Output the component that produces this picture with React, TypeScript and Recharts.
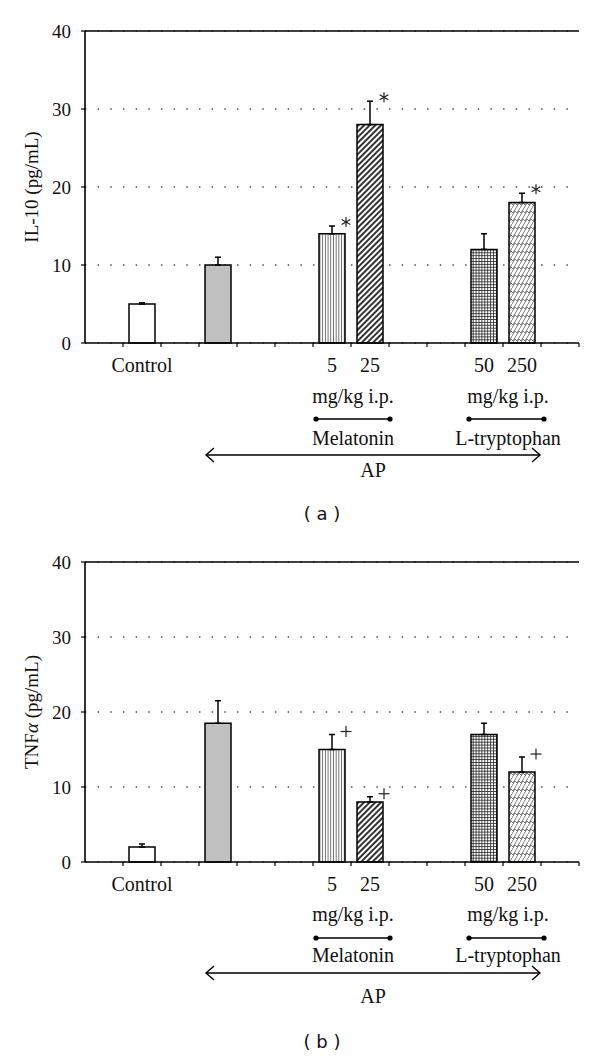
import React from 'react';
import { BarChart, Bar, XAxis, YAxis, CartesianGrid, ErrorBar, Cell, LabelList, ReferenceLine } from 'recharts';

// ---- data ----
const categories = ['c0', 'control', 'c2', 'ap', 'c4', 'c5', 'mel5', 'mel25', 'c8', 'c9', 'trp50', 'trp250', 'c12'];
const tickLabels = ['', 'Control', '', '', '', '', '5', '25', '', '', '50', '250', ''];
const fillKeys = ['', 'white', '', 'gray', '', '', 'vlines', 'diag', '', '', 'grid', 'zig', ''];

const il10Values = [null, 5, null, 10, null, null, 14, 28, null, null, 12, 18, null];
const il10Errors = [null, 0.15, null, 1, null, null, 1, 3, null, null, 2, 1.2, null];
const il10Marks = ['', '', '', '', '', '', '*', '*', '', '', '', '*', ''];

const tnfValues = [null, 2, null, 18.5, null, null, 15, 8, null, null, 17, 12, null];
const tnfErrors = [null, 0.4, null, 3, null, null, 2, 0.7, null, null, 1.5, 2, null];
const tnfMarks = ['', '', '', '', '', '', '+', '+', '', '', '', '+', ''];

const yTicks = [0, 10, 20, 30, 40];
const doseUnit = 'mg/kg i.p.';
const doseGroups = [
  { start: 6, end: 7, name: 'Melatonin', dx: 2, l: 16, r: 20 },
  { start: 10, end: 11, name: 'L-tryptophan', dx: 5, l: 15, r: 22 },
];
const apGroup = { start: 3, end: 11, name: 'AP', l: 12, r: 18 };

// ---- layout ----
const W = 600;
const MARGIN_L = 25;
const YAXIS_W = 60;
const MARGIN_R = 21;
const XAXIS_H = 180;
const MARGIN_B = 7;
const PLOT_L = MARGIN_L + YAXIS_W;
const BW = (W - PLOT_L - MARGIN_R) / categories.length;

const SERIF = "'Liberation Serif', 'Times New Roman', Times, serif";
const SANS = "'DejaVu Sans', sans-serif";
const serifStyle = { fontFamily: SERIF };

const panels = [
  {
    id: 'a', top: 0, height: 530, marginTop: 31,
    values: il10Values, errors: il10Errors, marks: il10Marks,
    caption: '( a )', captionY: 520,
    off: { label: 29, unit: 60, line: 76, name: 102, arrow: 112, ap: 134 },
  },
  {
    id: 'b', top: 530, height: 519, marginTop: 32,
    values: tnfValues, errors: tnfErrors, marks: tnfMarks,
    caption: '( b )', captionY: 1048,
    off: { label: 29, unit: 59, line: 76, name: 100, arrow: 111, ap: 141 },
  },
];

function fillFor(key: string, pid: string) {
  if (key === 'white') return '#ffffff';
  if (key === 'gray') return '#c0c0c0';
  if (key) return `url(#${pid}-${key})`;
  return 'none';
}

function Patterns({ pid }: { pid: string }) {
  return (
    <defs>
      <pattern id={`${pid}-vlines`} patternUnits="userSpaceOnUse" width="2.7" height="10">
        <rect width="2.7" height="10" fill="#fff" />
        <line x1="1.35" y1="0" x2="1.35" y2="10" stroke="#444" strokeWidth="0.8" />
      </pattern>
      <pattern id={`${pid}-diag`} patternUnits="userSpaceOnUse" width="4" height="4" patternTransform="rotate(45)">
        <rect width="4" height="4" fill="#fff" />
        <line x1="2" y1="0" x2="2" y2="4" stroke="#000" strokeWidth="1.6" />
      </pattern>
      <pattern id={`${pid}-grid`} patternUnits="userSpaceOnUse" width="2.9" height="2.9">
        <rect width="2.9" height="2.9" fill="#fff" />
        <path d="M0,0.4 H2.9 M0.4,0 V2.9" stroke="#111" strokeWidth="0.8" fill="none" />
      </pattern>
      <pattern id={`${pid}-zig`} patternUnits="userSpaceOnUse" width="8" height="8">
        <rect width="8" height="8" fill="#fff" />
        <path d="M0,8 L3,3 L5,5 L8,0 M-4,8 L-1,3 L1,5 L4,0 M4,8 L7,3 L9,5 L12,0" stroke="#555" strokeWidth="0.8" fill="none" />
      </pattern>
    </defs>
  );
}

function SerifText(props: any) {
  const { children, ...rest } = props;
  return (
    <text fontFamily={SERIF} fontSize={20} fill="#111" textAnchor="middle" style={serifStyle} {...rest}>
      {children}
    </text>
  );
}

function renderYTick(props: any) {
  const { x, y, payload } = props;
  return (
    <text x={x} y={y} dy="0.36em" textAnchor="end" fontFamily={SERIF} fontSize={19} fill="#111" style={serifStyle}>
      {payload.value}
    </text>
  );
}

function renderTick(props: any, off: any) {
  const { x, y, index } = props;
  const els: any[] = [];
  const last = categories.length - 1;
  if (index > 0) {
    els.push(<line key="t" x1={x - BW / 2} x2={x - BW / 2} y1={y} y2={y + 4} stroke="#000" strokeWidth={1.2} />);
  }
  if (index === last) {
    els.push(<line key="te" x1={x + BW / 2} x2={x + BW / 2} y1={y} y2={y + 4} stroke="#000" strokeWidth={1.2} />);
  }
  const lab = tickLabels[index];
  if (lab) {
    els.push(<SerifText key="l" x={x} y={y + off.label}>{lab}</SerifText>);
  }
  doseGroups.forEach((g, gi) => {
    if (g.start !== index) return;
    const span = (g.end - g.start) * BW;
    const cx = x + span / 2 + g.dx;
    const x1 = x - g.l;
    const x2 = x + span + g.r;
    els.push(
      <g key={`g${gi}`}>
        <SerifText x={cx} y={y + off.unit}>{doseUnit}</SerifText>
        <line x1={x1} x2={x2} y1={y + off.line} y2={y + off.line} stroke="#000" strokeWidth={1.5} />
        <circle cx={x1} cy={y + off.line} r={2.6} fill="#000" />
        <circle cx={x2} cy={y + off.line} r={2.6} fill="#000" />
        <SerifText x={cx} y={y + off.name}>{g.name}</SerifText>
      </g>
    );
  });
  if (apGroup.start === index) {
    const x1 = x - apGroup.l;
    const x2 = x + (apGroup.end - apGroup.start) * BW + apGroup.r;
    const ay = y + off.arrow;
    els.push(
      <g key="ap">
        <line x1={x1} x2={x2} y1={ay} y2={ay} stroke="#000" strokeWidth={1.4} />
        <polyline points={`${x1 + 8},${ay - 7} ${x1},${ay} ${x1 + 8},${ay + 7}`} fill="none" stroke="#000" strokeWidth={1.4} />
        <polyline points={`${x2 - 8},${ay - 7} ${x2},${ay} ${x2 - 8},${ay + 7}`} fill="none" stroke="#000" strokeWidth={1.4} />
        <SerifText x={(x1 + x2) / 2} y={y + off.ap}>{apGroup.name}</SerifText>
      </g>
    );
  }
  return <g>{els}</g>;
}

// the label value is "mark|error|value"
function renderMark(props: any) {
  const raw = props.value;
  if (typeof raw !== 'string' || !raw) return null;
  const [mark, eStr, vStr] = raw.split('|');
  const e = parseFloat(eStr);
  const v = parseFloat(vStr);
  const vb = props.viewBox || {};
  const x = vb.x ?? props.x;
  const y = vb.y ?? props.y;
  const w = vb.width ?? props.width;
  const h = vb.height ?? props.height;
  if ([x, y, w, h].some((n) => typeof n !== 'number' || isNaN(n)) || !v) return null;
  const pxPerUnit = Math.abs(h) / v;
  const errTop = Math.min(y, y + h) - e * pxPerUnit;
  const cx = x + w + 1;
  if (mark === '*') {
    const cy = errTop - 4;
    const r = 5;
    const a = Math.PI / 6;
    return (
      <g stroke="#222" strokeWidth={1.2}>
        <line x1={cx} y1={cy - r} x2={cx} y2={cy + r} />
        <line x1={cx - r * Math.cos(a)} y1={cy - r * Math.sin(a)} x2={cx + r * Math.cos(a)} y2={cy + r * Math.sin(a)} />
        <line x1={cx - r * Math.cos(a)} y1={cy + r * Math.sin(a)} x2={cx + r * Math.cos(a)} y2={cy - r * Math.sin(a)} />
      </g>
    );
  }
  const cy = errTop - 3;
  const r = 5.5;
  return (
    <g stroke="#222" strokeWidth={1.2}>
      <line x1={cx} y1={cy - r} x2={cx} y2={cy + r} />
      <line x1={cx - r} y1={cy} x2={cx + r} y2={cy} />
    </g>
  );
}

function Panel({ p }: { p: any }) {
  const rows = categories.map((c, i) => ({
    cat: c,
    v: p.values[i],
    err: p.errors[i] == null ? null : [0, p.errors[i]],
    markInfo: p.marks[i] ? `${p.marks[i]}|${p.errors[i]}|${p.values[i]}` : '',
  }));
  return (
    <div style={{ position: 'absolute', left: 0, top: p.top, width: W, height: p.height, fontFamily: SERIF }}>
      <BarChart
        width={W}
        height={p.height}
        data={rows}
        margin={{ top: p.marginTop, right: MARGIN_R, bottom: MARGIN_B, left: MARGIN_L }}
      >
        <Patterns pid={p.id} />
        <CartesianGrid horizontal vertical={false} stroke="#444" strokeWidth={1.4} strokeDasharray="1.4 11.27" />
        <XAxis
          dataKey="cat"
          interval={0}
          height={XAXIS_H}
          tickSize={0}
          tickMargin={0}
          tickLine={false}
          axisLine={{ stroke: '#000', strokeWidth: 1.6 }}
          tick={(tp: any) => renderTick(tp, p.off)}
        />
        <YAxis
          domain={[0, 40]}
          ticks={yTicks}
          interval={0}
          width={YAXIS_W}
          tickSize={4}
          tickMargin={10}
          axisLine={{ stroke: '#000', strokeWidth: 1.6 }}
          tickLine={{ stroke: '#000', strokeWidth: 1.2 }}
          tick={renderYTick}
        />
        <ReferenceLine y={40} stroke="#000" strokeWidth={1.6} />
        <Bar dataKey="v" barSize={26} stroke="#000" strokeWidth={1.5} isAnimationActive={false}>
          {rows.map((r, i) => (
            <Cell key={r.cat} fill={fillFor(fillKeys[i], p.id)} />
          ))}
          <ErrorBar dataKey="err" direction="y" width={3} stroke="#000" strokeWidth={1.5} />
          <LabelList dataKey="markInfo" content={renderMark} />
        </Bar>
      </BarChart>
    </div>
  );
}

export default function App() {
  const plotMid = (p: any) => p.top + p.marginTop + (p.height - p.marginTop - XAXIS_H - MARGIN_B) / 2;
  return (
    <div style={{ position: 'absolute', left: 0, top: 0, width: 600, height: 1058, background: '#fff' }}>
      {panels.map((p) => <Panel key={p.id} p={p} />)}
      <svg width={600} height={1058} style={{ position: 'absolute', left: 0, top: 0, pointerEvents: 'none' }}>
        <text
          x={37.5}
          y={plotMid(panels[0])}
          transform={`rotate(-90, 37.5, ${plotMid(panels[0])})`}
          textAnchor="middle"
          fontFamily={SERIF}
          style={serifStyle}
          fontSize={19}
          fill="#111"
        >
          IL-10 (pg/mL)
        </text>
        <text
          x={37.5}
          y={plotMid(panels[1])}
          transform={`rotate(-90, 37.5, ${plotMid(panels[1])})`}
          textAnchor="middle"
          fontFamily={SERIF}
          style={serifStyle}
          fontSize={19}
          fill="#111"
        >
          <tspan>TNF</tspan>
          <tspan fontStyle="italic">α</tspan>
          <tspan> (pg/mL)</tspan>
        </text>
        {panels.map((p) => (
          <text key={p.id} x={322} y={p.captionY} textAnchor="middle" fontFamily={SANS} fontSize={18} fill="#111">
            {p.caption}
          </text>
        ))}
      </svg>
    </div>
  );
}
